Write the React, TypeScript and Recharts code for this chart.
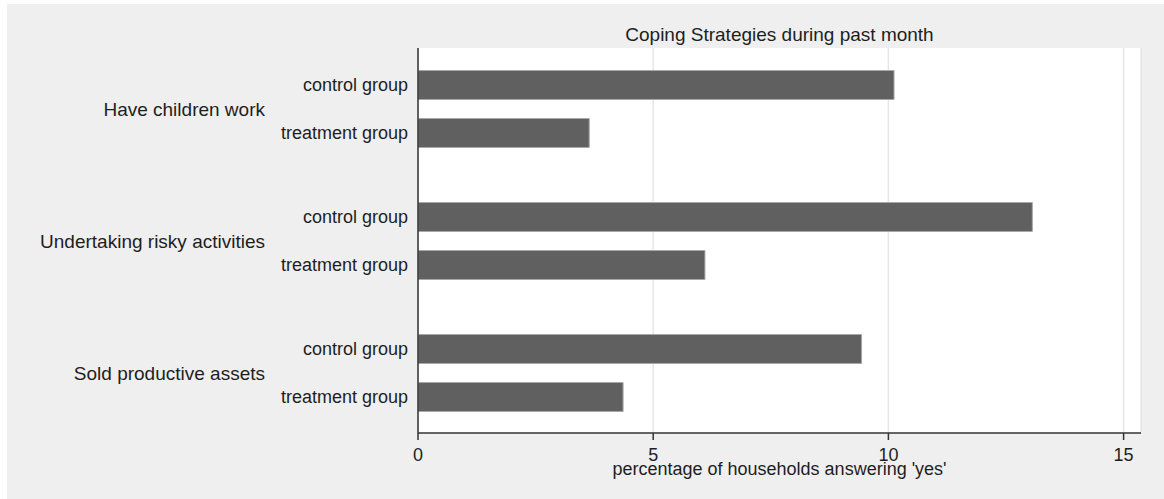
import { Bar, BarChart, CartesianGrid, XAxis, YAxis } from 'recharts';

// values (percent of households answering 'yes')
const groups = ['Have children work', 'Undertaking risky activities', 'Sold productive assets'];
const controlValues = [10.12, 13.06, 9.43];
const treatmentValues = [3.64, 6.1, 4.36];
const subLabels = ['control group', 'treatment group'];
const xTicks = [0, 5, 10, 15];

const title = 'Coping Strategies during past month';
const xTitle = "percentage of households answering 'yes'";

const data = groups.map((group, i) => ({
  group,
  control: controlValues[i],
  treatment: treatmentValues[i]
}));

const font = 'Arial, "Liberation Sans", sans-serif';
const ink = '#1e1e1e';
const W = 1164;
const H = 499;
const margin = { top: 48, right: 23, bottom: 26, left: 0 };
const yAxisWidth = 418;

const BAR = 29;
const GAP = 19;

function GroupTick(props: any) {
  const { x, y, payload } = props;
  const half = (BAR + GAP) / 2;
  return (
    <g fontFamily={font} fill={ink}>
      <text x={x - 143} y={y + 7} textAnchor="end" fontSize={19}>
        {payload.value}
      </text>
      <text x={x} y={y - half + 6.5} textAnchor="end" fontSize={18}>
        {subLabels[0]}
      </text>
      <text x={x} y={y + half + 6.5} textAnchor="end" fontSize={18}>
        {subLabels[1]}
      </text>
    </g>
  );
}

export default function App() {
  const plotLeft = margin.left + yAxisWidth;
  const plotWidth = W - plotLeft - margin.right;
  return (
    <div style={{ position: 'absolute', left: 0, top: 0, width: W, height: H, background: '#fff' }}>
      <div style={{ position: 'absolute', left: 7, top: 4, width: W - 7, height: H - 4, background: '#efefef' }} />
      <div style={{ position: 'absolute', left: 0, top: 0 }}>
        <BarChart
          width={W}
          height={H}
          data={data}
          layout="vertical"
          margin={margin}
          barSize={BAR}
          barGap={GAP}
        >
          <CartesianGrid horizontal={false} stroke="#e6e6e6" strokeWidth={1.5} fill="#ffffff" />
          <XAxis
            type="number"
            domain={[0, 15.37]}
            ticks={xTicks}
            allowDataOverflow
            height={40}
            tickSize={7}
            tickMargin={8}
            axisLine={{ stroke: '#333', strokeWidth: 1.5 }}
            tickLine={{ stroke: '#333', strokeWidth: 1.5 }}
            tick={{ fontSize: 18, fill: ink, fontFamily: font }}
            label={{
              content: (p: any) => {
                const vb = p.viewBox || { x: plotLeft, y: 433, width: plotWidth };
                return (
                  <text
                    x={vb.x + vb.width / 2}
                    y={vb.y + 42}
                    textAnchor="middle"
                    fontFamily={font}
                    fontSize={18}
                    fill={ink}
                  >
                    {xTitle}
                  </text>
                );
              }
            }}
          />
          <YAxis
            type="category"
            dataKey="group"
            width={yAxisWidth}
            padding={{ top: -5.5, bottom: -5.5 }}
            tickLine={false}
            tickSize={10}
            tickMargin={0}
            axisLine={{ stroke: '#333', strokeWidth: 1.5 }}
            tick={<GroupTick />}
            interval={0}
          />
          <Bar dataKey="control" fill="#606060" stroke="#a8a8a8" strokeWidth={1} isAnimationActive={false} />
          <Bar dataKey="treatment" fill="#606060" stroke="#a8a8a8" strokeWidth={1} isAnimationActive={false} />
        </BarChart>
      </div>
      <svg style={{ position: 'absolute', left: 0, top: 0 }} width={W} height={60}>
        <text
          x={plotLeft + plotWidth / 2}
          y={41}
          textAnchor="middle"
          fontFamily={font}
          fontSize={19}
          fill={ink}
        >
          {title}
        </text>
      </svg>
    </div>
  );
}
